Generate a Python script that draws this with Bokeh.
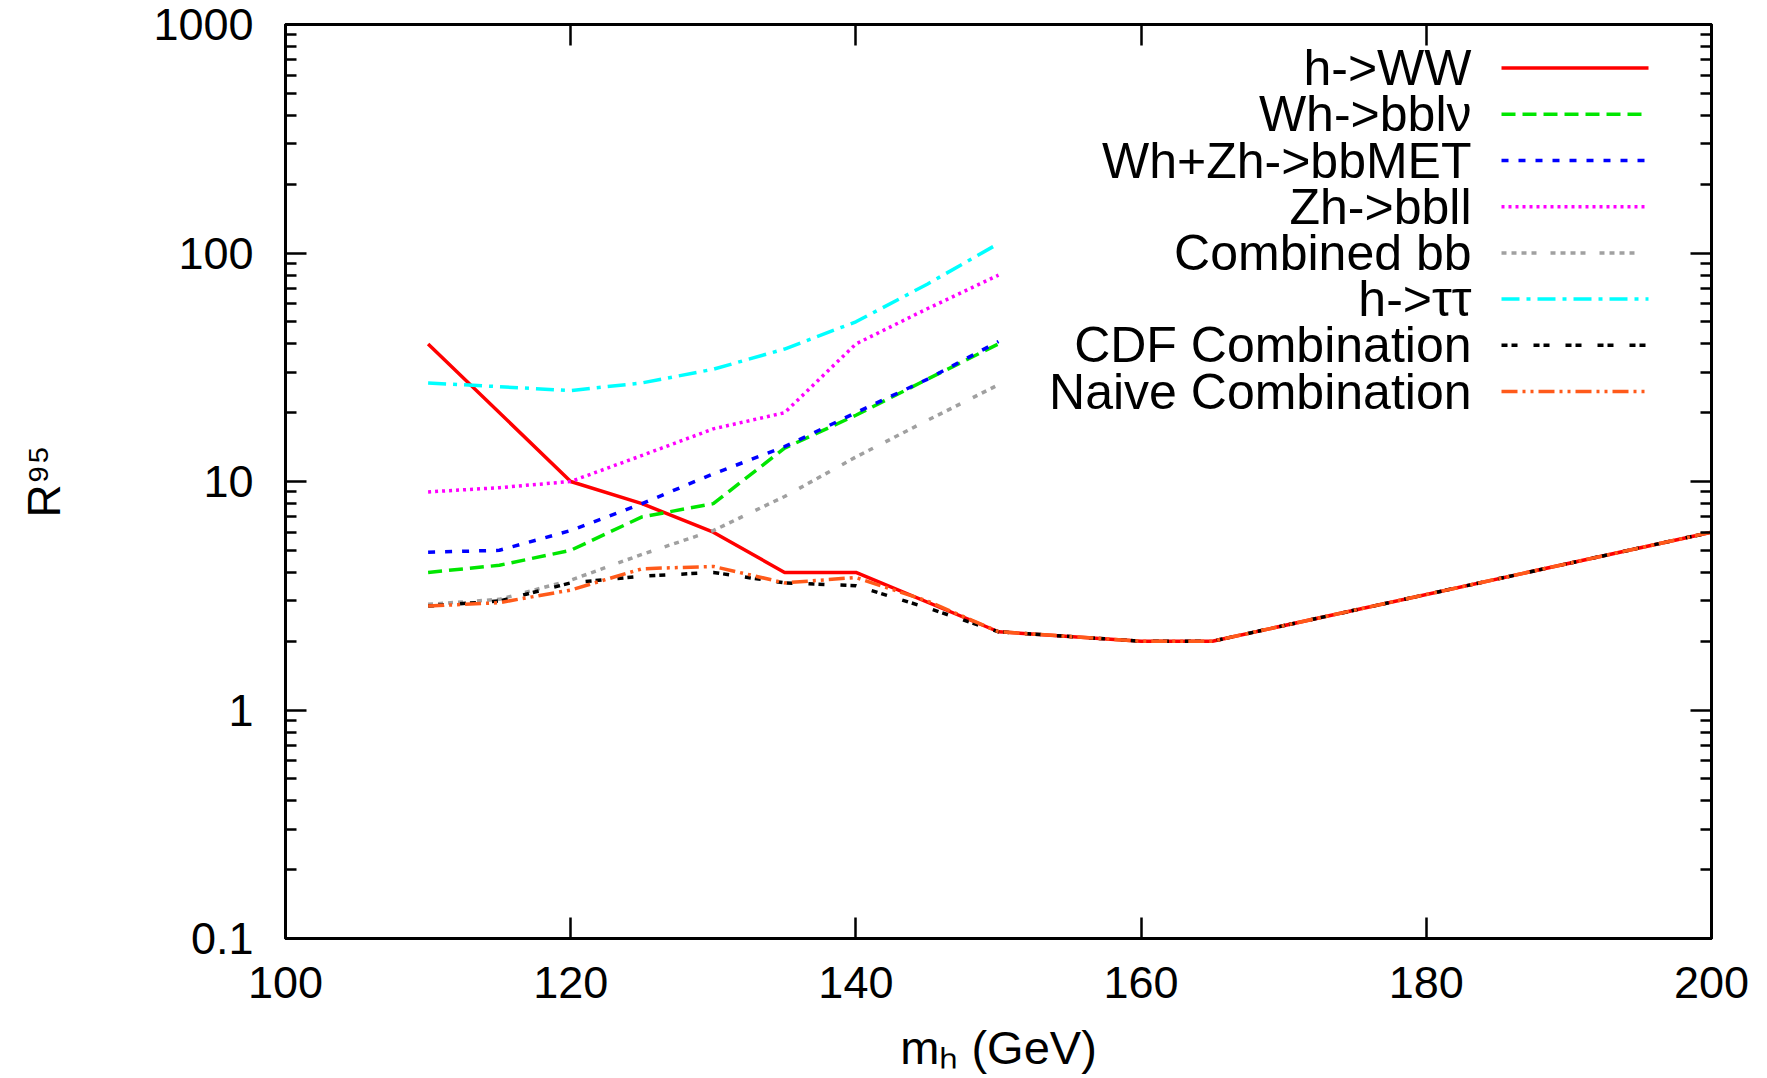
from bokeh.plotting import figure
from bokeh.models import Range1d, FixedTicker, LinearAxis, LogAxis, CustomJSTickFormatter, Label
from bokeh.embed import file_html
from bokeh.resources import INLINE

# ---------------- data ----------------
mass = [110, 115, 120, 125, 130, 135, 140, 145, 150]
mass_ww = [110, 120, 125, 130, 135, 140, 150, 160, 165, 200]
mass_comb = [110, 115, 120, 125, 130, 135, 140, 145, 150, 160, 165, 200]

r_ww = [40, 10, 8.0, 6.0, 4.0, 4.0, 2.2, 2.0, 2.0, 6.0]
r_wh_bblnu = [4.0, 4.3, 5.0, 7.0, 8.0, 14.0, 19.5, 28.0, 40.0]
r_bbmet = [4.9, 5.0, 6.1, 8.0, 10.8, 14.2, 20.0, 28.0, 41.0]
r_zh_bbll = [9.0, 9.4, 10.0, 13.0, 17.0, 20.0, 40.0, 57.0, 80.0]
r_comb_bb = [2.9, 3.05, 3.7, 4.8, 6.1, 8.6, 12.8, 18.5, 26.5]
r_tautau = [27.0, 26.0, 25.0, 27.0, 31.0, 38.0, 50.0, 73.0, 110.0]
r_cdf = [2.85, 3.0, 3.6, 3.85, 4.0, 3.6, 3.5, 2.8, 2.2, 2.0, 2.0, 6.0]
r_naive = [2.85, 2.95, 3.35, 4.15, 4.25, 3.6, 3.8, 3.0, 2.2, 2.0, 2.0, 6.0]

labels = ["h->WW", "Wh->bbl\u03bd", "Wh+Zh->bbMET", "Zh->bbll",
          "Combined bb", "h->\u03c4\u03c4", "CDF Combination", "Naive Combination"]

x_ticks = [100, 120, 140, 160, 180, 200]
y_ticks = [0.1, 1, 10, 100, 1000]
y_minor = [m * 10.0 ** e for e in range(-1, 3) for m in range(2, 10)]

x_title = "m\u2095 (GeV)"
y_title = "R\u2079\u2075"

# ---------------- layout ----------------
W, H = 1760, 1076
FL, FR, FT, FB = 285, 1711, 24, 938
FONT = "Liberation Sans"


def dx(px):
    return 100 + (px - FL) / (FR - FL) * 100


def dy(py):
    return 10 ** (-1 + (FB - py) / (FB - FT) * 4)


p = figure(width=W, height=H, output_backend="svg", toolbar_location=None,
           x_range=Range1d(100, 200), y_range=Range1d(0.1, 1000),
           y_axis_type="log",
           min_border_left=FL, min_border_right=W - FR,
           min_border_top=FT, min_border_bottom=H - FB)
p.xgrid.visible = False
p.ygrid.visible = False
p.outline_line_color = "black"
p.outline_line_width = 3
p.background_fill_color = "white"
p.border_fill_color = "white"

lab_fmt_y = CustomJSTickFormatter(code="return (tick >= 1) ? tick.toFixed(0) : tick.toPrecision(1);")
blank = CustomJSTickFormatter(code="return '';")


def style_axis(ax, minor=True):
    ax.axis_line_width = 3
    ax.axis_line_color = "black"
    ax.major_tick_in = 21
    ax.major_tick_out = 0
    ax.major_tick_line_width = 2.5
    ax.major_tick_line_color = "black"
    if minor:
        ax.minor_tick_in = 11
        ax.minor_tick_out = 0
        ax.minor_tick_line_width = 2.5
        ax.minor_tick_line_color = "black"
    else:
        ax.minor_tick_line_color = None
    ax.major_label_text_font = FONT
    ax.major_label_text_font_size = "45px"
    ax.major_label_text_color = "black"


xax = p.xaxis[0]
xax.ticker = FixedTicker(ticks=x_ticks)
style_axis(xax, minor=False)
xax.major_label_standoff = 28
xax.axis_label = x_title
xax.axis_label_text_font = FONT
xax.axis_label_text_font_style = "normal"
xax.axis_label_text_font_size = "47px"
xax.axis_label_text_color = "black"
xax.axis_label_standoff = 20

yax = p.yaxis[0]
yax.ticker = FixedTicker(ticks=y_ticks, minor_ticks=y_minor)
yax.formatter = lab_fmt_y
style_axis(yax)
yax.major_label_standoff = 32
yax.axis_label = y_title
yax.axis_label_text_font = FONT
yax.axis_label_text_font_style = "normal"
yax.axis_label_text_font_size = "46px"
yax.axis_label_text_color = "black"
yax.axis_label_standoff = 80

top = LinearAxis(ticker=FixedTicker(ticks=x_ticks), formatter=blank)
style_axis(top, minor=False)
top.major_label_text_font_size = "1px"
top.major_label_standoff = 0
p.add_layout(top, "above")

right = LogAxis(ticker=FixedTicker(ticks=y_ticks, minor_ticks=y_minor), formatter=blank)
style_axis(right)
right.major_label_text_font_size = "1px"
right.major_label_standoff = 0
p.add_layout(right, "right")

series = [
    (mass_ww, r_ww, "#ff0000", "solid"),
    (mass, r_wh_bblnu, "#00e600", "14 7"),
    (mass, r_bbmet, "#0000ff", "7 10"),
    (mass, r_zh_bbll, "#ff00ff", "3 4"),
    (mass, r_comb_bb, "#a0a0a0", "5 5 5 5 5 5 5 14"),
    (mass, r_tautau, "#00ffff", "18 7 4 7"),
    (mass_comb, r_cdf, "#000000", "6 4 6 16"),
    (mass_comb, r_naive, "#ff5a1a", "16 5 3 5 3 5"),
]

for xs, ys, col, dash in series:
    p.line(xs, ys, line_color=col, line_width=3.5, line_dash=dash)

# ---------------- legend (text left of the sample, right aligned) ----------------
row0, step = 67.6, 46.2
for i, (name, (xs, ys, col, dash)) in enumerate(zip(labels, series)):
    cy = row0 + i * step
    p.add_layout(Label(x=dx(1471), y=dy(cy), text=name, text_align="right",
                       text_baseline="middle", text_font=FONT,
                       text_font_size="50px", text_color="black"))
    p.line([dx(1501), dx(1648)], [dy(cy), dy(cy)], line_color=col,
           line_width=3.5, line_dash=dash)

open("out.html", "w").write(file_html(p, INLINE))
